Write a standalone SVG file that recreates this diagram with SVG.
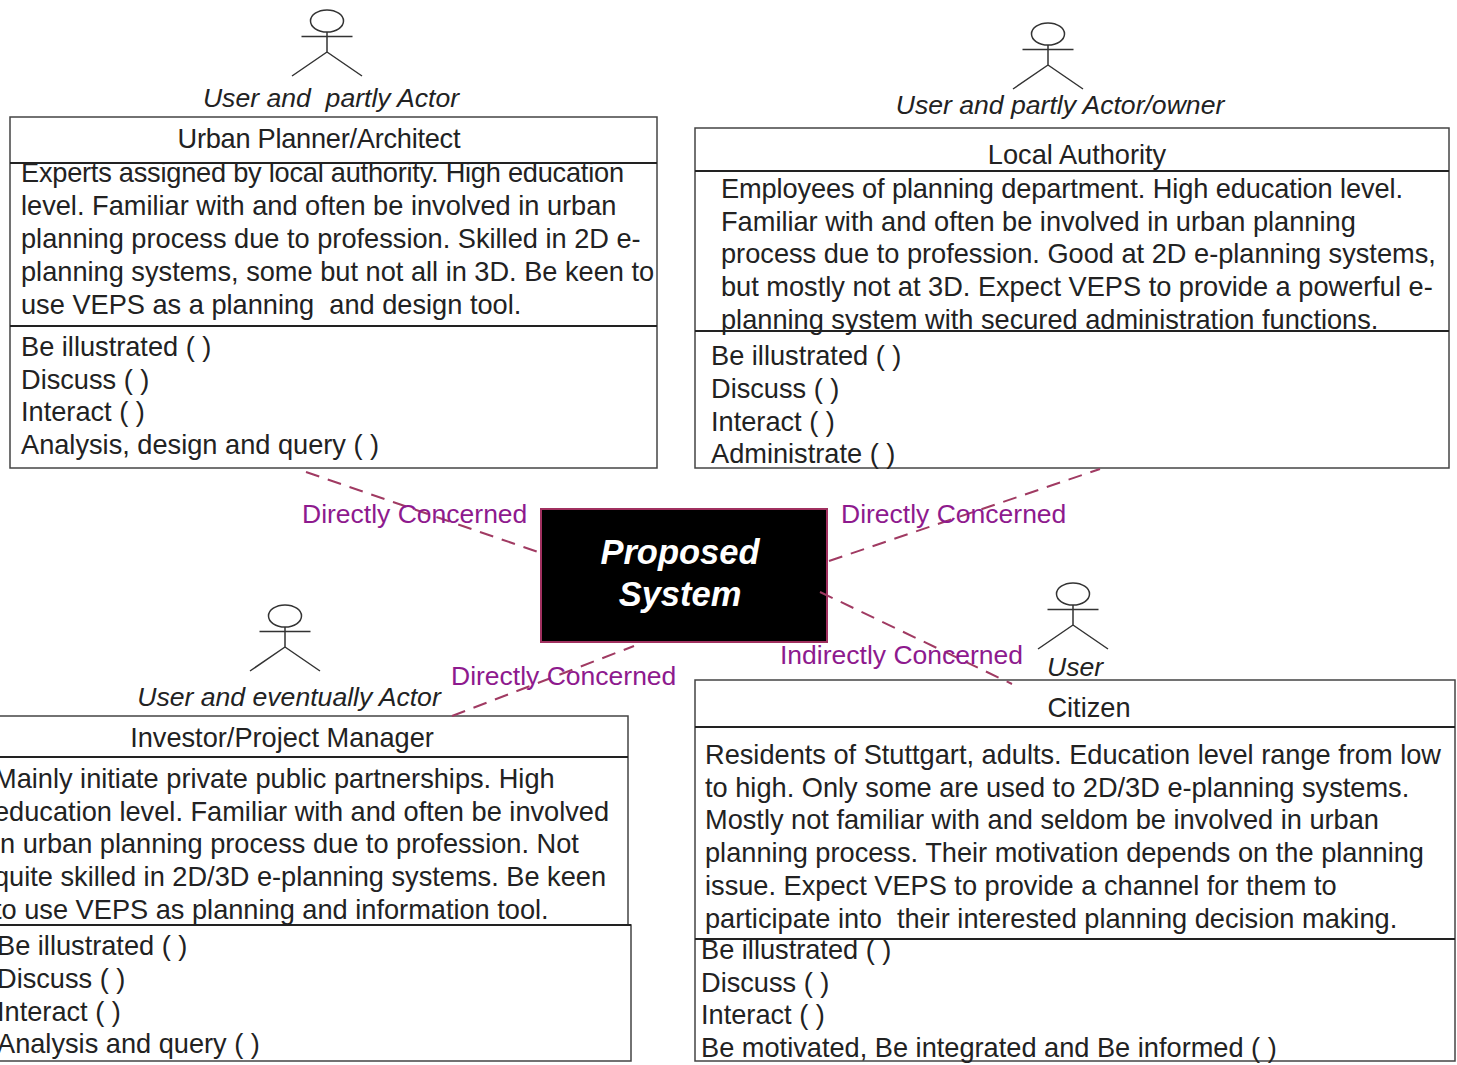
<svg xmlns="http://www.w3.org/2000/svg" width="1457" height="1065" viewBox="0 0 1457 1065">
<style>
text{font-family:"Liberation Sans",Arial,sans-serif;font-size:27.2px;fill:#222;white-space:pre}
.c{text-anchor:middle}
.i{font-style:italic;font-size:26.6px}
.box{fill:#fff;stroke:#444;stroke-width:1.5}
.ln{stroke:#222;stroke-width:2;fill:none}
.a{stroke:#333;stroke-width:1.5;fill:none}
.d{stroke:#a03a62;stroke-width:2;stroke-dasharray:14 9;fill:none}
.p{fill:#8e1a8e;font-size:26.5px}
.t{font-size:34.5px;font-weight:bold;font-style:italic;fill:#fff;text-anchor:middle}
</style>
<defs>
<g id="actor"><ellipse cx="0" cy="-31" rx="16.5" ry="11" class="a"/><path d="M0-20V0M-25.500-15.500H25.500M0 0L-35 24M0 0L35 24" class="a"/></g>
</defs>
<g id="urban-planner">
<use href="#actor" x="327" y="52"/>
<text class="i c" x="331" y="107">User and  partly Actor</text>
<rect class="box" x="10" y="117" width="647" height="351"/>
<path class="ln" d="M10 163H657M10 326H657"/>
<text class="c" x="319" y="148" textLength="283">Urban Planner/Architect</text>
<text x="21" y="182" textLength="603">Experts assigned by local authority. High education</text>
<text x="21" y="215">level. Familiar with and often be involved in urban</text>
<text x="21" y="248">planning process due to profession. Skilled in 2D e-</text>
<text x="21" y="281">planning systems, some but not all in 3D. Be keen to</text>
<text x="21" y="314">use VEPS as a planning  and design tool.</text>
<text x="21" y="356">Be illustrated ( )</text>
<text x="21" y="389">Discuss ( )</text>
<text x="21" y="421">Interact ( )</text>
<text x="21" y="454">Analysis, design and query ( )</text>
</g>
<g id="local-authority">
<use href="#actor" x="1048" y="65"/>
<text class="i c" x="1060" y="114">User and partly Actor/owner</text>
<rect class="box" x="695" y="128" width="754" height="340"/>
<path class="ln" d="M695 171H1449M695 331H1449"/>
<text class="c" x="1077" y="164">Local Authority</text>
<text x="721" y="198" textLength="682">Employees of planning department. High education level.</text>
<text x="721" y="231">Familiar with and often be involved in urban planning</text>
<text x="721" y="263">process due to profession. Good at 2D e-planning systems,</text>
<text x="721" y="296">but mostly not at 3D. Expect VEPS to provide a powerful e-</text>
<text x="721" y="329">planning system with secured administration functions.</text>
<text x="711" y="365">Be illustrated ( )</text>
<text x="711" y="398">Discuss ( )</text>
<text x="711" y="431">Interact ( )</text>
<text x="711" y="463">Administrate ( )</text>
</g>
<g id="proposed-system">
<rect x="541" y="509" width="286" height="133" fill="#000" stroke="#a0305f" stroke-width="2"/>
<text class="t" x="680" y="564">Proposed</text>
<text class="t" x="680" y="606">System</text>
</g>
<g id="investor">
<use href="#actor" x="285" y="647"/>
<text class="i c" x="289" y="706">User and eventually Actor</text>
<path class="box" d="M-2 716H628V925H631V1061H-2Z"/>
<path class="ln" d="M-2 757H628M-2 925H631"/>
<text class="c" x="282" y="747">Investor/Project Manager</text>
<text x="-6" y="788">Mainly initiate private public partnerships. High</text>
<text x="-6" y="821">education level. Familiar with and often be involved</text>
<text x="-6" y="853">in urban planning process due to profession. Not</text>
<text x="-6" y="886">quite skilled in 2D/3D e-planning systems. Be keen</text>
<text x="-6" y="919">to use VEPS as planning and information tool.</text>
<text x="-3" y="955">Be illustrated ( )</text>
<text x="-3" y="988">Discuss ( )</text>
<text x="-3" y="1021">Interact ( )</text>
<text x="-3" y="1053">Analysis and query ( )</text>
</g>
<g id="citizen">
<use href="#actor" x="1073" y="625"/>
<text class="i" x="1047" y="676">User</text>
<rect class="box" x="695" y="680" width="760" height="381"/>
<path class="ln" d="M695 727H1455M695 939H1455"/>
<text class="c" x="1089" y="717">Citizen</text>
<text x="705" y="764">Residents of Stuttgart, adults. Education level range from low</text>
<text x="705" y="797">to high. Only some are used to 2D/3D e-planning systems.</text>
<text x="705" y="829">Mostly not familiar with and seldom be involved in urban</text>
<text x="705" y="862">planning process. Their motivation depends on the planning</text>
<text x="705" y="895">issue. Expect VEPS to provide a channel for them to</text>
<text x="705" y="928">participate into  their interested planning decision making.</text>
<text x="701" y="959">Be illustrated ( )</text>
<text x="701" y="992">Discuss ( )</text>
<text x="701" y="1024">Interact ( )</text>
<text x="701" y="1057">Be motivated, Be integrated and Be informed ( )</text>
</g>
<g id="connectors">
<path class="d" d="M306 472L541 553"/>
<path class="d" d="M829 561L1100 469"/>
<path class="d" d="M452 716L634 646"/>
<path class="d" d="M820 592L1012 684"/>
<text class="p" x="302" y="523">Directly Concerned</text>
<text class="p" x="841" y="523">Directly Concerned</text>
<text class="p" x="451" y="685">Directly Concerned</text>
<text class="p" x="780" y="664">Indirectly Concerned</text>
</g>
</svg>
